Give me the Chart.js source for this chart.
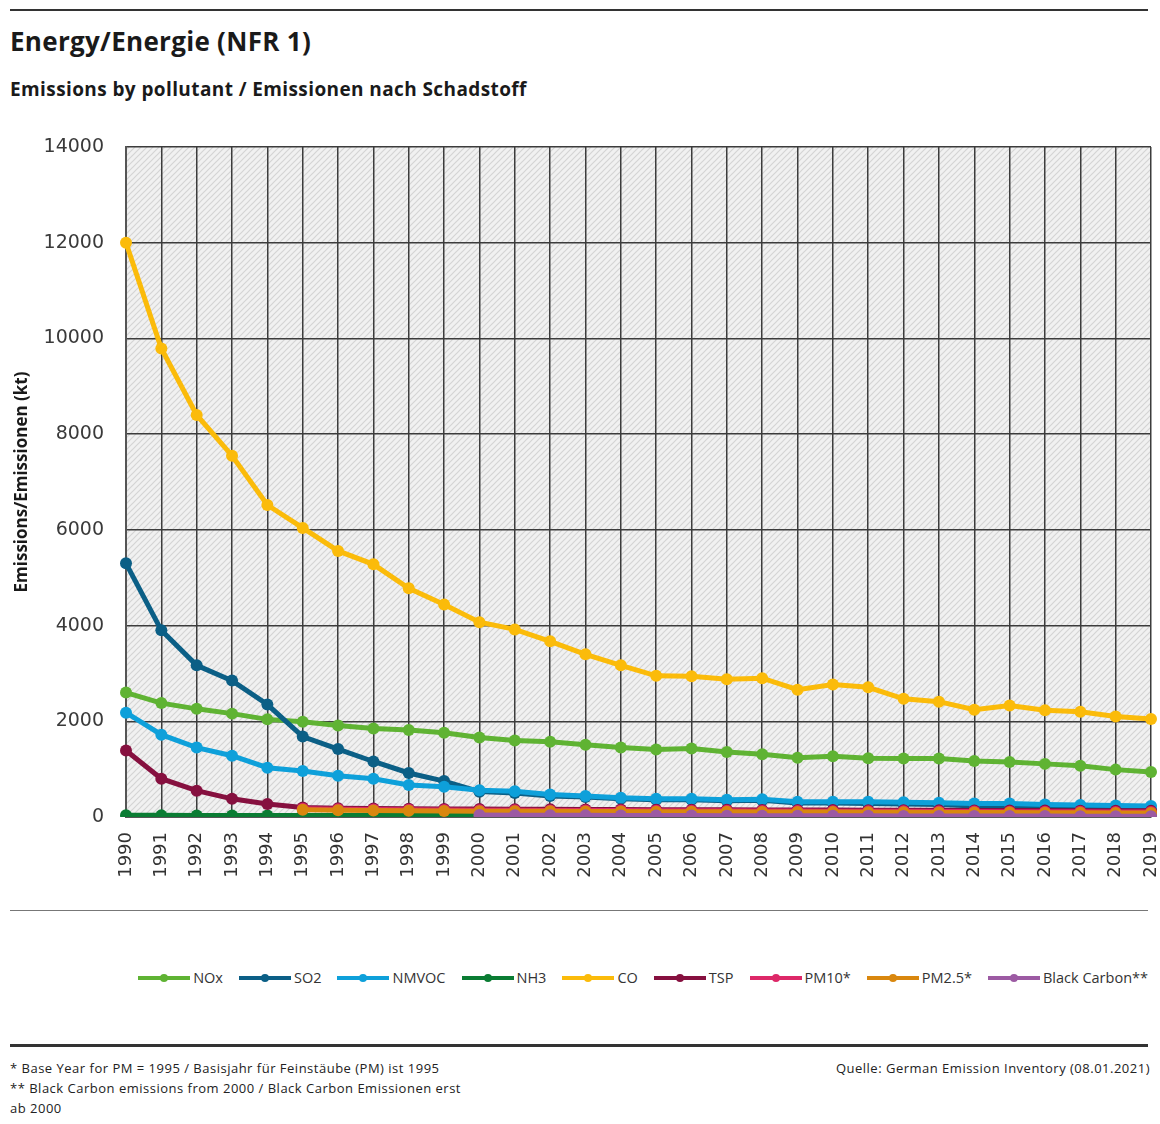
<!DOCTYPE html>
<html>
<head>
<meta charset="utf-8">
<script src="https://cdn.jsdelivr.net/npm/chart.js@4.4.0/dist/chart.umd.min.js"></script>
<style>
    body { margin: 0; background: #fff; font-family: "Open Sans", sans-serif; color: #1a1a1a; }
    #page { position: relative; width: 1160px; height: 1124px; overflow: hidden; }
    .rule { position: absolute; left: 10px; width: 1138px; }
    #title { position: absolute; left: 10px; top: 23px; font-size: 26px; font-weight: 700; letter-spacing: 0.3px; }
    #subtitle { position: absolute; left: 10px; top: 76px; font-size: 19px; font-weight: 700; letter-spacing: 0.4px; }
    #chartBox { position: absolute; left: 0; top: 120px; width: 1160px; height: 790px; }
    #legend { position: absolute; right: 12px; top: 968px; display: flex; align-items: center; font-size: 14.5px; color: #333; }
    .item { display: flex; align-items: center; margin-left: 16px; }
    .mark { position: relative; width: 52px; height: 4px; margin-right: 3px; }
    .mark span { position: absolute; left: 22px; top: -2px; width: 8px; height: 8px; border-radius: 50%; }
    .foot { position: absolute; font-size: 13px; letter-spacing: 0.5px; color: #222; }
</style>
</head>
<body>
<div id="page">
    <div class="rule" style="top:9px;height:2px;background:#333;"></div>
    <div id="title">Energy/Energie (NFR 1)</div>
    <div id="subtitle">Emissions by pollutant / Emissionen nach Schadstoff</div>
    <div id="chartBox"><canvas id="emissionChart" width="1160" height="790"></canvas></div>
    <div class="rule" style="top:910px;height:1px;background:#777;"></div>
    <div id="legend"></div>
    <div class="rule" style="top:1044px;height:3px;background:#333;"></div>
    <div class="foot" style="left:10px;top:1059px;">* Base Year for PM = 1995 / Basisjahr für Feinstäube (PM) ist 1995</div>
    <div class="foot" style="left:10px;top:1079px;">** Black Carbon emissions from 2000 / Black Carbon Emissionen erst</div>
    <div class="foot" style="left:10px;top:1099px;">ab 2000</div>
    <div class="foot" style="right:10px;top:1059px;">Quelle: German Emission Inventory (08.01.2021)</div>
</div>
<script>
const years = ["1990", "1991", "1992", "1993", "1994", "1995", "1996", "1997", "1998", "1999",
    "2000", "2001", "2002", "2003", "2004", "2005", "2006", "2007", "2008", "2009",
    "2010", "2011", "2012", "2013", "2014", "2015", "2016", "2017", "2018", "2019"];

const nox = [2600, 2380, 2260, 2160, 2040, 1990, 1910, 1850, 1820, 1760, 1660, 1600, 1570, 1510, 1450,
    1410, 1430, 1360, 1310, 1240, 1270, 1230, 1220, 1220, 1170, 1150, 1110, 1070, 990, 940];
const so2 = [5300, 3900, 3170, 2850, 2350, 1680, 1420, 1160, 920, 750, 530, 500, 440, 420, 380,
    360, 360, 340, 350, 290, 290, 280, 270, 260, 230, 230, 220, 200, 170, 150];
const nmvoc = [2180, 1720, 1450, 1280, 1030, 960, 860, 800, 670, 630, 560, 540, 470, 440, 400,
    380, 380, 360, 370, 320, 320, 320, 310, 300, 280, 280, 260, 250, 240, 230];
const nh3 = [35, 34, 33, 33, 32, 32, 32, 32, 32, 32, 33, 33, 33, 33, 34,
    34, 34, 35, 35, 35, 36, 36, 36, 36, 37, 37, 37, 37, 37, 37];
const co = [12000, 9790, 8400, 7550, 6520, 6040, 5560, 5280, 4780, 4440, 4070, 3920, 3670, 3400, 3170,
    2950, 2940, 2880, 2900, 2660, 2770, 2710, 2470, 2410, 2240, 2330, 2230, 2200, 2100, 2050];
const tsp = [1390, 800, 550, 380, 270, 200, 185, 178, 172, 168, 165, 163, 160, 158, 156,
    154, 152, 150, 148, 146, 145, 143, 141, 140, 138, 136, 134, 132, 130, 128];
const pm10 = [null, null, null, null, null, 170, 162, 156, 150, 146, 142, 140, 138, 136, 134,
    132, 130, 128, 126, 124, 122, 120, 118, 116, 114, 112, 110, 108, 106, 104];
const pm25 = [null, null, null, null, null, 150, 142, 136, 130, 126, 122, 120, 118, 116, 114,
    112, 110, 108, 106, 104, 102, 100, 98, 96, 94, 92, 90, 88, 86, 84];
const blackCarbon = [null, null, null, null, null, null, null, null, null, null, 40, 38, 36, 34, 32,
    30, 29, 28, 27, 26, 25, 24, 23, 22, 21, 20, 19, 18, 17, 16];

const seriesNames = ["NOx", "SO2", "NMVOC", "NH3", "CO", "TSP", "PM10*", "PM2.5*", "Black Carbon**"];
const seriesData = [nox, so2, nmvoc, nh3, co, tsp, pm10, pm25, blackCarbon];
const seriesColors = ["#5fb333", "#0b5f86", "#0ea0da", "#0a7c33", "#fbbb0a", "#86103f", "#dd2868", "#d9870e", "#9c5aa3"];

const yTicks = [0, 2000, 4000, 6000, 8000, 10000, 12000, 14000];

// hatched plot background
function makeHatch() {
    const tile = document.createElement("canvas");
    tile.width = 6;
    tile.height = 6;
    const t = tile.getContext("2d");
    t.fillStyle = "#f1f1f1";
    t.fillRect(0, 0, 6, 6);
    t.strokeStyle = "#d4d4d4";
    t.lineWidth = 1.2;
    t.beginPath();
    t.moveTo(0, 6); t.lineTo(6, 0);
    t.moveTo(-1, 1); t.lineTo(1, -1);
    t.moveTo(5, 7); t.lineTo(7, 5);
    t.stroke();
    return t.createPattern(tile, "repeat");
}

const hatchPlugin = {
    id: "hatch",
    beforeDraw(chart) {
        const a = chart.chartArea;
        const ctx = chart.ctx;
        ctx.save();
        ctx.fillStyle = makeHatch();
        ctx.fillRect(a.left, a.top, a.right - a.left, a.bottom - a.top);
        ctx.restore();
    }
};

const datasets = seriesNames.map((name, i) => ({
    label: name,
    data: seriesData[i],
    borderColor: seriesColors[i],
    backgroundColor: seriesColors[i],
    borderWidth: 5,
    pointRadius: 6,
    pointBorderWidth: 0,
    pointBackgroundColor: seriesColors[i],
    tension: 0,
    order: seriesNames.length - 1 - i
}));

new Chart(document.getElementById("emissionChart"), {
    type: "line",
    data: { labels: years, datasets: datasets },
    plugins: [hatchPlugin],
    options: {
        responsive: false,
        animation: false,
        layout: { padding: { top: 27, right: 9, left: 0, bottom: 0 } },
        plugins: {
            legend: { display: false },
            tooltip: { enabled: false }
        },
        scales: {
            x: {
                grid: { color: "#3c3c3c", lineWidth: 1.5, drawTicks: false },
                border: { color: "#555", width: 2 },
                ticks: {
                    autoSkip: false,
                    minRotation: 90,
                    maxRotation: 90,
                    padding: 15,
                    color: "#333",
                    font: { family: "DejaVu Sans", size: 18 }
                },
                afterFit(scale) {
                    scale.height = 93;
                    scale.paddingLeft = 0;
                    scale.paddingRight = 0;
                }
            },
            y: {
                min: 0,
                max: 14000,
                grid: { color: "#3c3c3c", lineWidth: 1.5, drawTicks: false },
                border: { color: "#555", width: 2 },
                afterBuildTicks(scale) { scale.ticks = yTicks.map(v => ({ value: v })); },
                ticks: {
                    padding: 22,
                    color: "#3a3a3a",
                    font: { family: "DejaVu Sans", size: 19 },
                    callback: v => String(v)
                },
                title: {
                    display: true,
                    text: "Emissions/Emissionen (kt)",
                    color: "#1a1a1a",
                    font: { family: "Open Sans", size: 17, weight: "bold" },
                    padding: { top: 12, bottom: 4 }
                },
                afterFit(scale) {
                    scale.width = 126;
                    scale.paddingTop = 0;
                    scale.paddingBottom = 0;
                }
            }
        }
    }
});

// legend with line + dot markers
const legend = document.getElementById("legend");
seriesNames.forEach((name, i) => {
    const item = document.createElement("div");
    item.className = "item";
    const mark = document.createElement("div");
    mark.className = "mark";
    mark.style.background = seriesColors[i];
    const dot = document.createElement("span");
    dot.style.background = seriesColors[i];
    mark.appendChild(dot);
    const label = document.createElement("div");
    label.textContent = name;
    item.appendChild(mark);
    item.appendChild(label);
    legend.appendChild(item);
});
</script>
</body>
</html>
